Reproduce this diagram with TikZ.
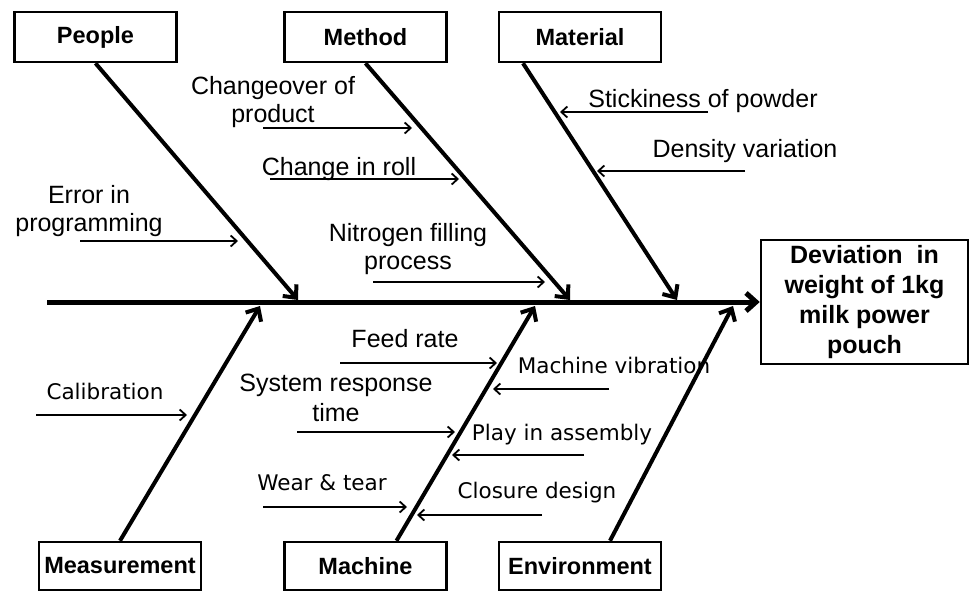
\documentclass[tikz,border=0pt]{standalone}
\usepackage{fontspec}
\setmainfont{Liberation Sans}
\newfontfamily\dejavu{DejaVu Sans}
\usetikzlibrary{arrows.meta}

\begin{document}
\begin{tikzpicture}[x=1pt,y=-1pt,
    box/.style={draw, line width=2.5pt, minimum width=162pt, minimum height=50pt,
      inner sep=0pt, font=\fontsize{23.5}{26}\selectfont\bfseries},
    cause/.style={align=center, inner sep=0pt, font=\fontsize{25}{28}\selectfont},
    causeb/.style={inner sep=0pt, anchor=base, font=\dejavu\fontsize{21.5}{28}\selectfont},
    bone/.style={line width=4pt, -{Straight Barb[length=10pt,width=18pt]}},
    twig/.style={line width=1.8pt, -{Straight Barb[length=6pt,width=11pt]}}]

  \useasboundingbox (0,0) rectangle (970,592);

  \begin{scope}[every node/.style={box}]
    \node (people)      at (95.5,37)  {People};
    \node (method)      at (365.5,37) {Method};
    \node (material)    at (580,37)   {Material};
    \node[minimum height=48pt] (measurement) at (120,566)   {Measurement};
    \node[minimum height=48pt] (machine)     at (365.5,566) {Machine};
    \node[minimum height=48pt] (environment) at (580,566)   {Environment};
    \node[minimum width=207pt, minimum height=124pt, align=center,
      font=\fontsize{25}{30}\selectfont\bfseries] (effect) at (864.5,302)
      {Deviation~ in\\weight of 1kg\\milk power\\pouch};
  \end{scope}

  % where the bones meet the spine
  \coordinate (tail)    at (47,302);
  \coordinate (pe-tip)  at (298,300);
  \coordinate (me-tip)  at (570,300);
  \coordinate (ma-tip)  at (677,300);
  \coordinate (mea-tip) at (260,306);
  \coordinate (mac-tip) at (535,306);
  \coordinate (env-tip) at (733,306);

  \draw[line width=5pt, -{Straight Barb[length=10pt,width=18pt]}] (tail) -- (effect.west);
  \draw[bone] (people.south) -- (pe-tip);
  \draw[bone] (method.south) -- (me-tip);
  \draw[bone] ([xshift=-57pt]material.south) -- (ma-tip);
  \draw[bone] (measurement.north) -- (mea-tip);
  \draw[bone] ([xshift=31pt]machine.north) -- (mac-tip);
  \draw[bone] ([xshift=30pt]environment.north) -- (env-tip);

  \begin{scope}[every node/.style={cause}]
    \node (changeover) at (273,102.5) {Changeover of\\product};
    \node[anchor=base] (roll) at (339,175) {Change in roll};
    \node (error) at (89,211) {Error in\\programming};
    \node (nitrogen) at (408,249.5) {Nitrogen filling\\process};
    \node[anchor=base] (sticky) at (703,107) {Stickiness of powder};
    \node[anchor=base] (density) at (745,157) {Density variation};
    \node[anchor=base] (feed) at (405,347) {Feed rate};
    \node[font=\fontsize{25}{30}\selectfont] (response) at (336,398) {System response\\time};
  \end{scope}

  \begin{scope}[every node/.style={causeb}]
    \node (calibration) at (105,399) {Calibration};
    \node (wear)        at (322,490) {Wear \& tear};
    \node (vibration)   at (614,373) {Machine vibration};
    \node (play)        at (562,440) {Play in assembly};
    \node (closure)     at (537,498) {Closure design};
  \end{scope}

  % small causes
  \foreach \n/\xa/\xb/\y in {changeover/263/412/128, roll/270/459/179,
      error/80/238/241, nitrogen/373/545/282, sticky/708/560/112,
      density/745/597/171, feed/340/497/363, response/297/455/432,
      calibration/36/187/415, wear/263/407/507, vibration/609/493/389,
      play/584/452/455, closure/542/417/515}{
    \coordinate (\n-t) at (\xa,\y);
    \coordinate (\n-h) at (\xb,\y);
    \draw[twig] (\n-t) -- (\n-h);
  }

\end{tikzpicture}
\end{document}
